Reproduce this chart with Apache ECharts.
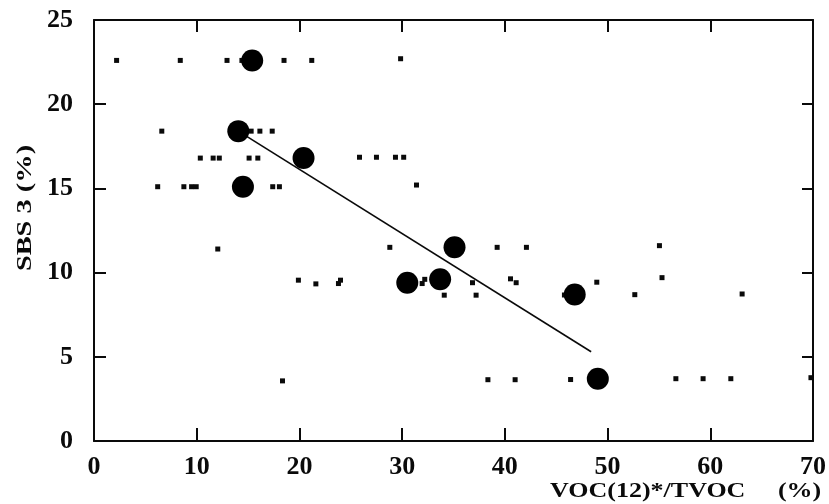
<!DOCTYPE html>
<html>
<head>
<meta charset="utf-8">
<title>SBS 3 vs VOC(12)*/TVOC</title>
<script src="https://cdn.jsdelivr.net/npm/echarts@6/dist/echarts.min.js"></script>
<style>
  html, body { margin: 0; padding: 0; background: #ffffff; }
  #chart { width: 829px; height: 504px; }
</style>
</head>
<body>
<div id="chart"></div>
<script>
// Individual building observations (small squares): [VOC(12)*/TVOC %, SBS 3 %]
const buildingX = [
  2.2, 8.4, 12.95, 14.4, 18.5, 21.2, 29.85,
  6.6, 15.3, 16.15, 17.35,
  10.35, 11.6, 12.2, 15.1, 15.95, 25.85, 27.5, 29.35, 30.15,
  6.2, 8.75, 9.5, 9.95, 17.4, 18.05, 31.4,
  12.05, 28.8, 39.25, 42.1, 55.05,
  19.9, 21.6, 23.8, 24.0, 31.95, 32.2, 36.85, 40.55, 41.1, 48.95, 55.3,
  34.1, 37.2, 45.8, 52.65, 63.1,
  18.35, 38.35, 41.0, 46.4, 56.65, 59.3, 62.0, 69.8
];
const buildingY = [
  22.6, 22.6, 22.6, 22.6, 22.6, 22.6, 22.7,
  18.4, 18.4, 18.4, 18.4,
  16.8, 16.8, 16.8, 16.8, 16.8, 16.85, 16.85, 16.85, 16.85,
  15.1, 15.1, 15.1, 15.1, 15.1, 15.1, 15.2,
  11.4, 11.5, 11.5, 11.5, 11.6,
  9.55, 9.33, 9.35, 9.55, 9.35, 9.6, 9.4, 9.63, 9.4, 9.43, 9.7,
  8.66, 8.66, 8.67, 8.69, 8.73,
  3.57, 3.64, 3.64, 3.65, 3.7, 3.7, 3.7, 3.76
];

// Group means (large filled circles)
const groupX = [15.4, 14.05, 20.4, 14.5, 35.1, 30.5, 33.7, 46.8, 49.05];
const groupY = [22.6, 18.4, 16.8, 15.1, 11.5, 9.4, 9.6, 8.7, 3.7];

// Fitted regression line through the group means
const fitX = [14.05, 48.4];
const fitY = [18.4, 5.3];

// Axis ticks
const xTicks = [0, 10, 20, 30, 40, 50, 60, 70];
const yTicks = [0, 5, 10, 15, 20, 25];

const zip = (xs, ys) => xs.map((x, i) => [x, ys[i]]);

const FONT = '"Liberation Serif", "Times New Roman", serif';
const INK = '#0a0a0a';

// Shared frame settings: every side of the box is drawn by an axis line
function frameAxis(extra) {
  return Object.assign({
    type: 'value',
    axisLine: { show: true, onZero: false, lineStyle: { color: INK, width: 2 } },
    splitLine: { show: false }
  }, extra);
}

const tickLabel = {
  color: INK, fontFamily: FONT, fontWeight: 'bold', fontSize: 26
};

const chart = echarts.init(document.getElementById('chart'), null, { renderer: 'canvas' });

chart.setOption({
  backgroundColor: '#ffffff',
  animation: false,
  grid: { left: 94, right: 16, top: 20, bottom: 63, containLabel: false },
  xAxis: [
    frameAxis({
      position: 'bottom',
      min: xTicks[0], max: xTicks[xTicks.length - 1], interval: 10,
      axisTick: { show: true, inside: true, length: 13, lineStyle: { color: INK, width: 2 } },
      axisLabel: Object.assign({ show: true, margin: 13 }, tickLabel)
    }),
    frameAxis({
      position: 'top',
      min: xTicks[0], max: xTicks[xTicks.length - 1], interval: 10,
      axisTick: { show: true, inside: true, length: 12, lineStyle: { color: INK, width: 2 } },
      axisLabel: { show: false }
    })
  ],
  yAxis: [
    frameAxis({
      position: 'left',
      min: yTicks[0], max: yTicks[yTicks.length - 1], interval: 5,
      axisTick: { show: true, inside: true, length: 12, lineStyle: { color: INK, width: 2 } },
      axisLabel: Object.assign({ show: true, margin: 21 }, tickLabel)
    }),
    frameAxis({
      position: 'right',
      min: yTicks[0], max: yTicks[yTicks.length - 1], interval: 5,
      axisTick: { show: true, inside: true, length: 11, lineStyle: { color: INK, width: 2 } },
      axisLabel: { show: false }
    })
  ],
  graphic: [
    {
      type: 'text', x: 550, y: 492, scaleX: 1.3,
      style: {
        text: 'VOC(12)*/TVOC     (%)',
        fill: INK, font: 'bold 20px ' + FONT,
        align: 'left', verticalAlign: 'middle'
      }
    },
    {
      type: 'text', x: 26, y: 208, rotation: Math.PI / 2, scaleX: 1.42,
      style: {
        text: 'SBS 3 (%)',
        fill: INK, font: 'bold 20px ' + FONT,
        align: 'center', verticalAlign: 'middle'
      }
    }
  ],
  series: [
    {
      type: 'line', name: 'fit', data: zip(fitX, fitY),
      showSymbol: false, symbol: 'none',
      lineStyle: { color: INK, width: 1.6 }, z: 2
    },
    {
      type: 'scatter', name: 'buildings', data: zip(buildingX, buildingY),
      symbol: 'rect', symbolSize: 5,
      itemStyle: { color: INK, opacity: 1 }, z: 3
    },
    {
      type: 'scatter', name: 'means', data: zip(groupX, groupY),
      symbol: 'circle', symbolSize: 22,
      itemStyle: { color: '#000000', opacity: 1 }, z: 4
    }
  ]
});
</script>
</body>
</html>
